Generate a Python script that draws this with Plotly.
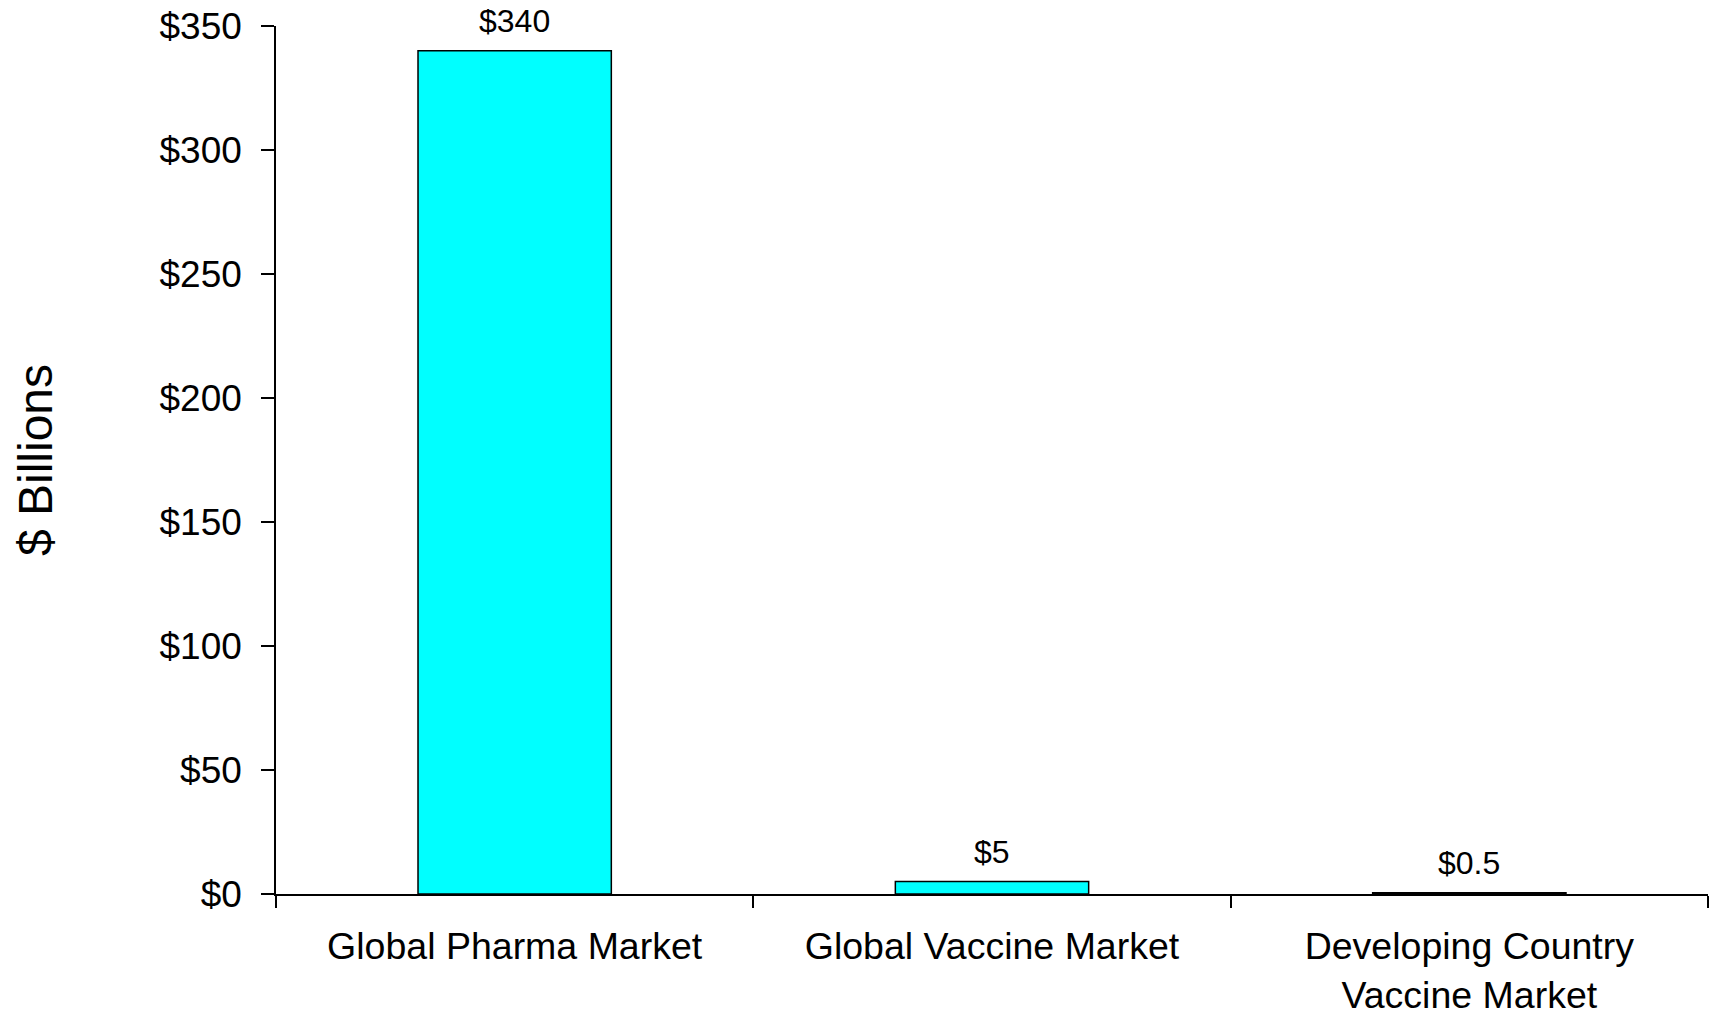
import plotly.graph_objects as go

categories = ["Global Pharma Market", "Global Vaccine Market", "Developing Country<br>Vaccine Market"]
values = [340, 5, 0.5]
value_labels = ["$340", "$5", "$0.5"]
y_ticks = [0, 50, 100, 150, 200, 250, 300, 350]
y_tick_labels = ["$0", "$50", "$100", "$150", "$200", "$250", "$300", "$350"]

FONT = "Liberation Sans, Arial, sans-serif"

fig = go.Figure()
fig.add_trace(go.Bar(
    x=categories,
    y=values,
    width=0.405,
    marker=dict(color="#00FFFF", line=dict(color="black", width=1.5)),
    hoverinfo="skip",
))

for c, v, t in zip(categories, values, value_labels):
    fig.add_annotation(x=c, y=v, text=t, showarrow=False, yanchor="bottom",
                       yshift=10, font=dict(family=FONT, size=32, color="black"))

fig.update_layout(
    width=1716, height=1016,
    margin=dict(l=276, r=8, t=26, b=122, autoexpand=False),
    paper_bgcolor="white", plot_bgcolor="white",
    showlegend=False,
    font=dict(family=FONT, color="black"),
)
fig.update_xaxes(
    type="category", range=[-0.5, 2.5],
    showline=True, linecolor="black", linewidth=1.5,
    ticks="outside", tickson="boundaries", ticklen=12, tickwidth=1.5, tickcolor="black",
    tickfont=dict(family=FONT, size=37.5, color="black"),
    ticklabelstandoff=18,
    showgrid=False, zeroline=False,
)
fig.update_yaxes(
    range=[0, 350], tickmode="array", tickvals=y_ticks, ticktext=y_tick_labels,
    showline=True, linecolor="black", linewidth=1.5,
    ticks="outside", ticklen=13, tickwidth=1.5, tickcolor="black",
    tickfont=dict(family=FONT, size=37, color="black"),
    ticklabelstandoff=12,
    showgrid=False, zeroline=False,
    title=dict(text="$ Billions", font=dict(family=FONT, size=48, color="black"), standoff=92),
)

fig.write_html("out.html")
